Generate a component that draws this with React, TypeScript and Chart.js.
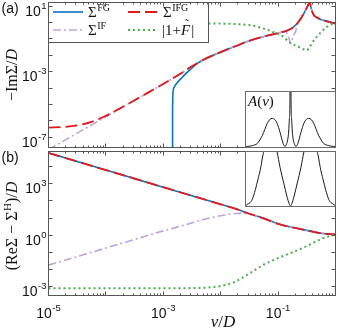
import React, { useEffect, useRef } from 'react';
import { Chart, registerables } from 'chart.js';
Chart.register(...registerables);

// ---------- Panel (a): -Im Sigma / D ----------
const fgA_nu = [1.448e-3, 1.450e-3, 1.455e-3, 1.47e-3, 1.55e-3, 1.78e-3, 2.16e-3, 2.63e-3, 3.89e-3, 5.62e-3, 1.0e-2, 1.78e-2, 3.16e-2, 5.62e-2, 0.1, 0.141, 0.178, 0.224, 0.251, 0.282, 0.316, 0.339, 0.355, 0.367, 0.380, 0.398, 0.417, 0.468, 0.537, 0.631, 0.794, 1.0];
const fgA_val = [1e-10, 1.0e-6, 1.0e-5, 4.8e-5, 1.17e-4, 2.34e-4, 4.79e-4, 9.55e-4, 3.16e-3, 6.61e-3, 1.58e-2, 3.55e-2, 7.76e-2, 0.141, 0.229, 0.316, 0.479, 1.05, 1.86, 3.72, 7.94, 13.2, 16.6, 11.2, 6.61, 4.17, 2.95, 2.09, 1.62, 1.35, 1.07, 0.871];

const ifgA_nu = [1e-5, 1.78e-5, 3.16e-5, 5.62e-5, 1e-4, 1.78e-4, 3.16e-4, 5.62e-4, 1e-3, 1.78e-3, 3.16e-3, 5.62e-3, 1e-2, 1.78e-2, 3.16e-2, 5.62e-2, 0.1, 0.141, 0.178, 0.224, 0.251, 0.282, 0.316, 0.339, 0.355, 0.367, 0.380, 0.398, 0.417, 0.468, 0.537, 0.631, 0.794, 1.0];
const ifgA_val = [3.98e-7, 4.27e-7, 5.37e-7, 8.91e-7, 2.09e-6, 6.03e-6, 1.86e-5, 5.75e-5, 1.82e-4, 6.03e-4, 2.19e-3, 6.61e-3, 1.58e-2, 3.55e-2, 7.76e-2, 0.141, 0.229, 0.316, 0.479, 1.05, 1.86, 3.72, 7.94, 13.2, 16.6, 11.2, 6.61, 4.17, 2.95, 2.09, 1.62, 1.35, 1.07, 0.871];

const ifA_nu = [1e-5, 3.16e-5, 1e-4, 3.16e-4, 1e-3, 1.78e-3, 3.16e-3, 5.62e-3, 1e-2, 1.78e-2, 3.16e-2, 5.62e-2, 0.1, 0.133, 0.151, 0.167, 0.182, 0.2, 0.214, 0.224, 0.251, 0.282, 0.316, 0.339, 0.355, 0.367, 0.380, 0.398, 0.417, 0.468, 0.537, 0.631, 0.794, 1.0];
const ifA_val = [1.82e-8, 1.82e-7, 1.82e-6, 1.82e-5, 1.82e-4, 6.03e-4, 2.19e-3, 6.61e-3, 1.58e-2, 3.55e-2, 7.76e-2, 0.141, 0.229, 0.282, 0.141, 0.0525, 0.141, 0.269, 0.631, 1.0, 1.86, 3.72, 7.94, 13.2, 16.6, 11.2, 6.61, 4.17, 2.95, 2.09, 1.62, 1.35, 1.07, 0.871];

const absA_nu = [1e-5, 1e-4, 1e-3, 6.31e-3, 3.31e-2, 5.62e-2, 9.55e-2, 0.126, 0.153, 0.2, 0.251, 0.316, 0.355, 0.398, 0.468, 0.7, 1.0];
const absA_val = [0.871, 0.871, 0.871, 0.871, 0.692, 0.427, 0.214, 0.132, 0.0661, 0.0407, 0.0282, 0.0204, 0.0316, 0.0631, 0.132, 0.537, 1.0];

// ---------- Panel (b): (Re Sigma - Sigma^H) / D ----------
const reB_nu = [1e-5, 3.16e-5, 1e-4, 3.16e-4, 1e-3, 3.16e-3, 1e-2, 1.78e-2, 3.16e-2, 5.62e-2, 0.1, 0.178, 0.316, 0.562, 1.0];
const reB_val = [6.31e4, 2.0e4, 6.31e3, 2.0e3, 631, 200, 63.1, 35.5, 17.8, 9.55, 4.57, 2.82, 1.91, 1.29, 1.10];

const ifB_nu = [1e-5, 3.16e-5, 1e-4, 3.16e-4, 1e-3, 2.51e-3, 5.01e-3, 7.94e-3, 1.26e-2, 1.78e-2, 2.51e-2, 3.55e-2, 4.47e-2, 5.62e-2, 0.1, 0.178, 0.316, 0.562, 1.0];
const ifB_val = [0.0178, 0.0562, 0.178, 0.562, 1.78, 4.17, 8.13, 11.7, 15.8, 18.2, 18.6, 15.1, 12.6, 9.55, 4.57, 2.82, 1.91, 1.29, 1.10];

const absB_nu = [1e-5, 1e-4, 1e-3, 3.16e-3, 5.62e-3, 1e-2, 1.78e-2, 3.16e-2, 5.62e-2, 0.1, 0.178, 0.316, 0.562, 1.0];
const absB_val = [7.94e-4, 7.94e-4, 7.94e-4, 8.13e-4, 8.71e-4, 1.07e-3, 1.91e-3, 5.75e-3, 1.91e-2, 4.57e-2, 0.1, 0.229, 0.603, 1.10];

// ---------- Insets: spectral function A(nu) ----------
const insetA_nu = [-1, -0.956, -0.85, -0.736, -0.626, -0.516, -0.46, -0.407, -0.35, -0.297, -0.23, -0.165, -0.12, -0.09, -0.06, -0.04, -0.025, -0.012, 0, 0.012, 0.025, 0.04, 0.06, 0.09, 0.12, 0.165, 0.23, 0.297, 0.35, 0.407, 0.46, 0.516, 0.626, 0.736, 0.85, 0.956, 1];
const insetA_val = [0, 0, 0.015, 0.055, 0.2, 0.42, 0.49, 0.51, 0.49, 0.42, 0.25, 0.055, 0, 0.04, 0.13, 0.28, 0.5, 0.85, 4.0, 0.85, 0.5, 0.28, 0.13, 0.04, 0, 0.055, 0.25, 0.42, 0.49, 0.51, 0.49, 0.42, 0.2, 0.055, 0.015, 0, 0];

const insetB_nu = [-1, -0.978, -0.9, -0.85, -0.78, -0.72, -0.67, -0.62, -0.58, -0.5, -0.42, -0.35, -0.3, -0.23, -0.15, -0.08, -0.03, 0, 0.03, 0.08, 0.15, 0.23, 0.3, 0.35, 0.42, 0.5, 0.58, 0.62, 0.67, 0.72, 0.78, 0.85, 0.9, 0.978, 1];
const insetB_val = [0, 0.02, 0.06, 0.12, 0.3, 0.5, 0.67, 0.9, 1.05, 1.2, 1.25, 1.15, 1.0, 0.7, 0.42, 0.18, 0.04, 0, 0.04, 0.18, 0.42, 0.7, 1.0, 1.15, 1.25, 1.2, 1.05, 0.9, 0.67, 0.5, 0.3, 0.12, 0.06, 0.02, 0];

// ---------- Ticks ----------
const xTickLabels = [{ v: 1e-5, e: '-5' }, { v: 1e-3, e: '-3' }, { v: 1e-1, e: '-1' }];
const xMajor = [1e-5, 1e-4, 1e-3, 1e-2, 1e-1, 1];
const xMinorMult = [2, 3, 4, 5, 6, 7, 8, 9];
const yA_decades = [1e-7, 1e-6, 1e-5, 1e-4, 1e-3, 1e-2, 1e-1, 1, 10];
const yA_labels = [{ v: 10, e: '1' }, { v: 1e-3, e: '-3' }, { v: 1e-7, e: '-7' }];
const yB_decades = [1e-3, 1e-2, 1e-1, 1, 10, 100, 1e3, 1e4];
const yB_labels = [{ v: 1e3, e: '3' }, { v: 1, e: '0' }, { v: 1e-3, e: '-3' }];

const BLUE = '#0b72bd';
const RED = '#e31a1c';
const PURPLE = '#c0a2da';
const GREEN = '#4daf4a';
const FRAME = '#555555';
const SANS = '"Liberation Sans", Arial, sans-serif';
const SERIF = '"Liberation Serif", "Times New Roman", serif';

type Seg = { t: string; f: string; dy?: number; dx?: number };

function richWidth(ctx: CanvasRenderingContext2D, segs: Seg[]) {
  let w = 0;
  for (const s of segs) { ctx.font = s.f; w += ctx.measureText(s.t).width + (s.dx || 0); }
  return w;
}
function drawRich(ctx: CanvasRenderingContext2D, segs: Seg[], x: number, y: number, align = 'left') {
  const w = richWidth(ctx, segs);
  let cx = align === 'center' ? x - w / 2 : align === 'right' ? x - w : x;
  ctx.textAlign = 'left';
  ctx.textBaseline = 'alphabetic';
  for (const s of segs) {
    ctx.font = s.f;
    cx += s.dx || 0;
    ctx.fillText(s.t, cx, y + (s.dy || 0));
    cx += ctx.measureText(s.t).width;
  }
  return cx;
}
const pow10 = (e: string): Seg[] => [
  { t: '10', f: `14px ${SANS}` },
  { t: e, f: `9.5px ${SANS}`, dy: -7, dx: 0.5 },
];
const pts = (xs: number[], ys: number[]) => xs.map((x, i) => ({ x, y: ys[i] }));
const crisp = (v: number) => Math.round(v - 0.5) + 0.5;

function drawFrameTicks(chart: any, yDecades: number[]) {
  const { ctx, chartArea: a, scales } = chart;
  const xs = scales.x, ys = scales.y;
  ctx.save();
  ctx.strokeStyle = FRAME;
  ctx.lineWidth = 1;
  ctx.beginPath();
  for (const d of xMajor) {
    const p = crisp(xs.getPixelForValue(d));
    ctx.moveTo(p, a.bottom); ctx.lineTo(p, a.bottom - 4);
    ctx.moveTo(p, a.top); ctx.lineTo(p, a.top + 4);
    if (d < 1) {
      for (const m of xMinorMult) {
        const q = crisp(xs.getPixelForValue(d * m));
        ctx.moveTo(q, a.bottom); ctx.lineTo(q, a.bottom - 2);
        ctx.moveTo(q, a.top); ctx.lineTo(q, a.top + 2);
      }
    }
  }
  for (const d of yDecades) {
    const p = crisp(ys.getPixelForValue(d));
    if (p < a.top || p > a.bottom) continue;
    ctx.moveTo(a.left, p); ctx.lineTo(a.left + 4, p);
    ctx.moveTo(a.right, p); ctx.lineTo(a.right - 4, p);
  }
  ctx.stroke();
  ctx.strokeRect(a.left, a.top, a.right - a.left, a.bottom - a.top);
  ctx.restore();
}

function drawYLabels(chart: any, labels: { v: number; e: string }[]) {
  const { ctx, scales } = chart;
  ctx.save();
  ctx.fillStyle = '#111';
  for (const l of labels) {
    const p = scales.y.getPixelForValue(l.v);
    drawRich(ctx, pow10(l.e), 46.5, p + 9.5, 'right');
  }
  ctx.restore();
}

function legendLine(ctx: CanvasRenderingContext2D, x0: number, x1: number, y: number, color: string, dash: number[], w: number) {
  ctx.save();
  ctx.strokeStyle = color; ctx.lineWidth = w; ctx.setLineDash(dash);
  ctx.beginPath(); ctx.moveTo(x0, y); ctx.lineTo(x1, y); ctx.stroke();
  ctx.restore();
}

const panelAPlugin = {
  id: 'panelA',
  afterDatasetsDraw(chart: any) {
    const { ctx, chartArea: a } = chart;
    // legend box
    ctx.save();
    ctx.fillStyle = '#ffffff';
    ctx.fillRect(a.left, a.top, 208.5 - a.left, 42.5 - a.top);
    ctx.strokeStyle = FRAME; ctx.lineWidth = 1;
    ctx.strokeRect(a.left, a.top, 208.5 - a.left, 42.5 - a.top);
    legendLine(ctx, 53, 83, 12, BLUE, [], 1.6);
    legendLine(ctx, 128, 158, 12, RED, [12, 5], 1.8);
    legendLine(ctx, 53, 83, 30, PURPLE, [8, 3, 2, 3], 1.6);
    legendLine(ctx, 128, 158, 30, GREEN, [2, 3], 2);
    ctx.fillStyle = '#111';
    const big = `15px ${SERIF}`, sup = `10px ${SERIF}`;
    drawRich(ctx, [{ t: 'Σ', f: big }, { t: 'FG', f: sup, dy: -6, dx: 0.5 }], 88, 17);
    drawRich(ctx, [{ t: 'Σ', f: big }, { t: 'IFG', f: sup, dy: -6, dx: 0.5 }], 163, 17);
    drawRich(ctx, [{ t: 'Σ', f: big }, { t: 'IF', f: sup, dy: -6, dx: 0.5 }], 88, 35);
    // |1+F~|
    ctx.font = big;
    let cx = drawRich(ctx, [{ t: '|1+', f: big }], 162, 35);
    const fItal = `italic 15px ${SERIF}`;
    ctx.font = fItal;
    const fw = ctx.measureText('F').width;
    ctx.fillText('F', cx, 35);
    ctx.font = `12px ${SERIF}`;
    ctx.textAlign = 'center';
    ctx.fillText('˜', cx + fw / 2 + 1.5, 28);
    ctx.textAlign = 'left';
    drawRich(ctx, [{ t: '|', f: big }], cx + fw + 1, 35);
    ctx.restore();

    drawFrameTicks(chart, yA_decades);
    drawYLabels(chart, yA_labels);

    ctx.save();
    ctx.fillStyle = '#111';
    drawRich(ctx, [{ t: '(a)', f: `14px ${SANS}` }], 1.5, 13);
    ctx.translate(17, 75);
    ctx.rotate(-Math.PI / 2);
    drawRich(ctx, [
      { t: '−Im', f: `16px ${SERIF}` },
      { t: 'Σ', f: `16px ${SERIF}` },
      { t: '/', f: `16px ${SERIF}` },
      { t: 'D', f: `italic 16px ${SERIF}` },
    ], 0, 0, 'center');
    ctx.restore();
  },
};

const panelBPlugin = {
  id: 'panelB',
  afterDatasetsDraw(chart: any) {
    const { ctx, scales } = chart;
    drawFrameTicks(chart, yB_decades);
    drawYLabels(chart, yB_labels);
    ctx.save();
    ctx.fillStyle = '#111';
    for (const l of xTickLabels) {
      const p = scales.x.getPixelForValue(l.v);
      drawRich(ctx, pow10(l.e), p, 318, 'center');
    }
    drawRich(ctx, [
      { t: 'ν', f: `italic 17px ${SERIF}` },
      { t: '/', f: `17px ${SERIF}` },
      { t: 'D', f: `italic 17px ${SERIF}` },
    ], 223, 327, 'center');
    drawRich(ctx, [{ t: '(b)', f: `14px ${SANS}` }], 1.5, 162);
    ctx.translate(17, 226);
    ctx.rotate(-Math.PI / 2);
    const f = `16px ${SERIF}`;
    drawRich(ctx, [
      { t: '(ReΣ', f },
      { t: ' − ', f },
      { t: 'Σ', f },
      { t: 'H', f: `11px ${SERIF}`, dy: -6, dx: 0.5 },
      { t: ')/', f },
      { t: 'D', f: `italic 16px ${SERIF}` },
    ], 0, 0, 'center');
    ctx.restore();
  },
};

const insetPlugin = (label: boolean) => ({
  id: 'inset',
  beforeDraw(chart: any) {
    const { ctx, width, height } = chart;
    ctx.save();
    ctx.fillStyle = '#ffffff';
    ctx.fillRect(0, 0, width, height);
    ctx.restore();
  },
  afterDatasetsDraw(chart: any) {
    const { ctx, chartArea: a } = chart;
    ctx.save();
    ctx.strokeStyle = '#6a6a6a';
    ctx.lineWidth = 1;
    ctx.strokeRect(a.left, a.top, a.right - a.left, a.bottom - a.top);
    if (label) {
      ctx.fillStyle = '#111';
      drawRich(ctx, [
        { t: 'A', f: `italic 15px ${SERIF}` },
        { t: '(', f: `15px ${SERIF}` },
        { t: 'ν', f: `italic 15px ${SERIF}` },
        { t: ')', f: `15px ${SERIF}` },
      ], 3, 15);
    }
    ctx.restore();
  },
});

const lineDs = (data: any, color: string, dash: number[], w: number) => ({
  data, borderColor: color, borderDash: dash, borderWidth: w, pointRadius: 0,
  fill: false, cubicInterpolationMode: 'monotone' as const,
});

export default function App() {
  const refA = useRef<HTMLCanvasElement>(null);
  const refB = useRef<HTMLCanvasElement>(null);
  const refIA = useRef<HTMLCanvasElement>(null);
  const refIB = useRef<HTMLCanvasElement>(null);

  useEffect(() => {
    const common: any = {
      responsive: false,
      maintainAspectRatio: false,
      animation: false,
      devicePixelRatio: 1,
      events: [],
      plugins: { legend: { display: false }, tooltip: { enabled: false }, title: { display: false } },
    };
    const chartA = new Chart(refA.current!, {
      type: 'line',
      data: {
        datasets: [
          lineDs(pts(absA_nu, absA_val), GREEN, [2, 3], 2),
          lineDs(pts(ifgA_nu, ifgA_val), RED, [12, 5], 1.8),
          lineDs(pts(ifA_nu, ifA_val), PURPLE, [8, 3, 2, 3], 1.6),
          lineDs(pts(fgA_nu, fgA_val), BLUE, [], 1.6),
        ],
      },
      options: {
        ...common,
        layout: { padding: { left: 48.5, right: 2.5, top: 2.5, bottom: 332 - 147.5 } },
        scales: {
          x: { type: 'logarithmic', min: 1e-5, max: 1, display: false },
          y: { type: 'logarithmic', min: 2.42e-8, max: 16.8, display: false },
        },
      },
      plugins: [panelAPlugin],
    } as any);
    const chartB = new Chart(refB.current!, {
      type: 'line',
      data: {
        datasets: [
          lineDs(pts(absB_nu, absB_val), GREEN, [2, 3], 2),
          lineDs(pts(reB_nu, reB_val), RED, [12, 5], 1.8),
          lineDs(pts(ifB_nu, ifB_val), PURPLE, [8, 3, 2, 3], 1.6),
          lineDs(pts(reB_nu, reB_val), BLUE, [], 1.6),
        ],
      },
      options: {
        ...common,
        layout: { padding: { left: 48.5, right: 2.5, top: 151.5, bottom: 332 - 295.5 } },
        scales: {
          x: { type: 'logarithmic', min: 1e-5, max: 1, display: false },
          y: { type: 'logarithmic', min: 3.43e-4, max: 7.66e4, display: false },
        },
      },
      plugins: [panelBPlugin],
    } as any);
    const insetOpts = (ymin: number, ymax: number) => ({
      ...common,
      layout: { padding: { left: 0.5, right: 0.5, top: 0.5, bottom: 0.5 } },
      scales: {
        x: { type: 'linear', min: -1, max: 1, display: false },
        y: { type: 'linear', min: ymin, max: ymax, display: false },
      },
    });
    const chartIA = new Chart(refIA.current!, {
      type: 'line',
      data: { datasets: [lineDs(pts(insetA_nu, insetA_val), '#1a1a1a', [], 1)] },
      options: insetOpts(-0.02, 1),
      plugins: [insetPlugin(true)],
    } as any);
    const chartIB = new Chart(refIB.current!, {
      type: 'line',
      data: { datasets: [lineDs(pts(insetB_nu, insetB_val), '#1a1a1a', [], 1)] },
      options: insetOpts(-0.01, 1),
      plugins: [insetPlugin(false)],
    } as any);
    return () => { chartA.destroy(); chartB.destroy(); chartIA.destroy(); chartIB.destroy(); };
  }, []);

  const abs = (l: number, t: number, w: number, h: number): React.CSSProperties => ({
    position: 'absolute', left: l, top: t, width: w, height: h,
  });
  return (
    <div style={{ position: 'absolute', left: 0, top: 0, width: 338, height: 332, background: '#fff', overflow: 'hidden' }}>
      <canvas ref={refA} width={338} height={332} style={abs(0, 0, 338, 332)} />
      <canvas ref={refB} width={338} height={332} style={abs(0, 0, 338, 332)} />
      <canvas ref={refIA} width={91} height={57} style={abs(245, 91, 91, 57)} />
      <canvas ref={refIB} width={91} height={56} style={abs(245, 151, 91, 56)} />
    </div>
  );
}
